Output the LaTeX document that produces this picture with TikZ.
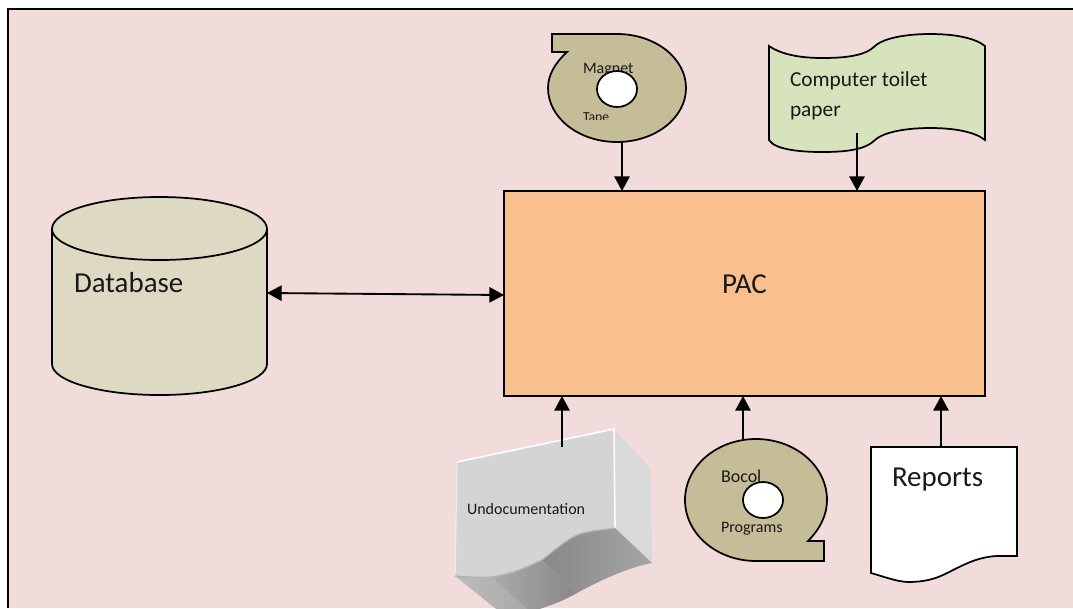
\documentclass[tikz,border=0pt]{standalone}
\usepackage{fontspec}
\setmainfont{Carlito}
\usetikzlibrary{arrows.meta}
\definecolor{bgpink}{HTML}{F2DBDB}
\definecolor{pacfill}{HTML}{FABF8F}
\definecolor{dbfill}{HTML}{DDD9C3}
\definecolor{tapefill}{HTML}{C4BD97}
\definecolor{paperfill}{HTML}{D6E3BC}
\definecolor{boxfront}{HTML}{D4D4D4}
\definecolor{boxside}{HTML}{D9D9D9}
\tikzset{
  px/.style={x=0.75pt,y=-0.75pt},
  outline/.style={draw=black,line width=1.3pt,line join=miter},
  conn/.style={draw=black,line width=1.4pt,-{Triangle[length=11pt,width=11.5pt]}},
  biconn/.style={draw=black,line width=1.4pt,{Triangle[length=11pt,width=11.5pt]}-{Triangle[length=11pt,width=11.5pt]}},
  lbl/.style={inner sep=0pt,outer sep=0pt,anchor=base west,text=black!90},
}
\begin{document}
\begin{tikzpicture}[px]
\useasboundingbox (0,0) rectangle (1073,608);
\fill[white] (0,0) rectangle (1073,608);
\fill[bgpink] (8,9) rectangle (1073,608);
\draw[black,line width=1.6pt] (8,608) -- (8,9) -- (1073,9);

% PAC
\node[outline,fill=pacfill,minimum width=360.75pt,minimum height=153.75pt,inner sep=0pt] (pac) at (744.5,293.5) {};
\node[lbl,font=\fontsize{21.7}{24}\selectfont] (pactext) at (722,293) {PAC};
\coordinate (pacT1) at (622,191);
\coordinate (pacT2) at (857,191);
\coordinate (pacL) at (504,295);
\coordinate (pacB1) at (562,396);
\coordinate (pacB2) at (743,396);
\coordinate (pacB3) at (941,396);

% Database
\path[outline,fill=dbfill] (52,229) -- (52,364)
  .. controls (52,381) and (100,395) .. (159.5,395)
  .. controls (219,395) and (267,381) .. (267,364)
  -- (267,229)
  .. controls (267,211) and (219,197) .. (159.5,197)
  .. controls (100,197) and (52,211) .. (52,229) -- cycle;
\draw[line width=1.3pt] (52,229)
  .. controls (52,246) and (100,260) .. (159.5,260)
  .. controls (219,260) and (267,246) .. (267,229);
\node[lbl,font=\fontsize{21.7}{24}\selectfont] (dbtext) at (74,292) {Database};
\coordinate (dbR) at (267,293);

% Magnet tape
\path[outline,fill=tapefill] (552,34) -- (552,52) -- (567,52)
  .. controls (555,63) and (548,75) .. (548,88)
  .. controls (548,118) and (579,142) .. (617,142)
  .. controls (655,142) and (686,118) .. (686,88)
  .. controls (686,58) and (655,34) .. (617,34) -- cycle;
\node[lbl,font=\fontsize{12}{13}\selectfont] (t1a) at (583,73) {Magnet};
\begin{scope}
\clip (575,100) rectangle (640,119);
\node[lbl,font=\fontsize{10.3}{12}\selectfont] (t1b) at (583,121) {Tape};
\end{scope}
\draw[outline,fill=white] (617,89) ellipse[x radius=20,y radius=18];
\coordinate (t1out) at (622,142);

% Computer toilet paper
\path[outline,fill=paperfill] (769,46)
  .. controls (782,55) and (802,58) .. (822,58)
  .. controls (845,58) and (865,56) .. (875,46)
  .. controls (885,37) and (910,34) .. (930,34)
  .. controls (955,34) and (975,38) .. (985,46)
  -- (985,140)
  .. controls (975,132) and (955,128) .. (930,128)
  .. controls (910,128) and (885,131) .. (875,140)
  .. controls (865,150) and (845,152) .. (822,152)
  .. controls (802,152) and (775,150) .. (769,140) -- cycle;
\node[lbl,font=\fontsize{16}{18}\selectfont] (ct1) at (790,86) {Computer toilet};
\node[lbl,font=\fontsize{16}{18}\selectfont] (ct2) at (790,116) {paper};
\coordinate (ctout) at (857,133);

% Undocumentation box
\begin{scope}
\clip (0,0) rectangle (1073,608);
\fill[boxside] (614,429) -- (650,468) -- (652,563) -- (615,528) -- cycle;
\shade[left color=black!26,right color=black!34] (455,576) -- (492,577) -- (530,612) -- (500,612) -- cycle;
\shade[left color=black!33,right color=black!47] (492,577)
  .. controls (512,574) and (525,568) .. (542,560)
  -- (577,593) .. controls (565,600) and (550,606) .. (530,612) -- cycle;
\shade[left color=black!47,right color=black!35] (542,560)
  .. controls (555,550) and (568,538) .. (580,534)
  .. controls (592,530) and (605,530) .. (615,528)
  -- (652,563) .. controls (635,566) and (610,575) .. (577,593) -- cycle;
\fill[boxfront] (457,462) -- (614,429) -- (615,528)
  .. controls (605,530) and (592,530) .. (580,534)
  .. controls (568,538) and (555,550) .. (542,560)
  .. controls (525,568) and (512,574) .. (492,577)
  .. controls (480,578) and (470,577) .. (455,576) -- cycle;
\draw[white,line width=1.2pt] (457,462) -- (614,429) -- (615,528);
\draw[black!8,line width=1pt] (457,462) -- (455,576);
\draw[black!30,line width=1pt] (615,528)
  .. controls (605,530) and (592,530) .. (580,534)
  .. controls (568,538) and (555,550) .. (542,560)
  .. controls (525,568) and (512,574) .. (492,577)
  .. controls (480,578) and (470,577) .. (455,576);
\end{scope}
\node[lbl,font=\fontsize{12}{14}\selectfont] (ud) at (467,514) {Undocumentation};
\coordinate (udout) at (562,447);

% Bocol tape
\path[outline,fill=tapefill] (824,561) -- (824,541) -- (808,541)
  .. controls (820,529) and (827,515) .. (827,500)
  .. controls (827,466) and (795,439) .. (756,439)
  .. controls (717,439) and (685,466) .. (685,500)
  .. controls (685,534) and (717,561) .. (756,561) -- cycle;
\node[lbl,font=\fontsize{13.5}{15}\selectfont] (t2a) at (721,482) {Bocol};
\node[lbl,font=\fontsize{12}{14}\selectfont] (t2b) at (721,532) {Programs};
\draw[outline,fill=white] (763,500) ellipse[x radius=20,y radius=18];
\coordinate (t2out) at (743,439);

% Reports
\path[outline,fill=white] (871,447) -- (1017,447) -- (1017,556) -- (997,556)
  .. controls (975,557) and (960,567) .. (943,575)
  .. controls (930,581) and (918,582) .. (907,582)
  .. controls (895,581) and (885,577) .. (871,573) -- cycle;
\node[lbl,font=\fontsize{21.7}{24}\selectfont] (rp) at (892,486) {Reports};
\coordinate (rpout) at (941,447);

% Connectors
\draw[conn] (t1out) -- (pacT1);
\draw[conn] (ctout) -- (pacT2);
\draw[biconn] (dbR) -- (pacL);
\draw[conn] (udout) -- (pacB1);
\draw[conn] (t2out) -- (pacB2);
\draw[conn] (rpout) -- (pacB3);
\end{tikzpicture}
\end{document}
